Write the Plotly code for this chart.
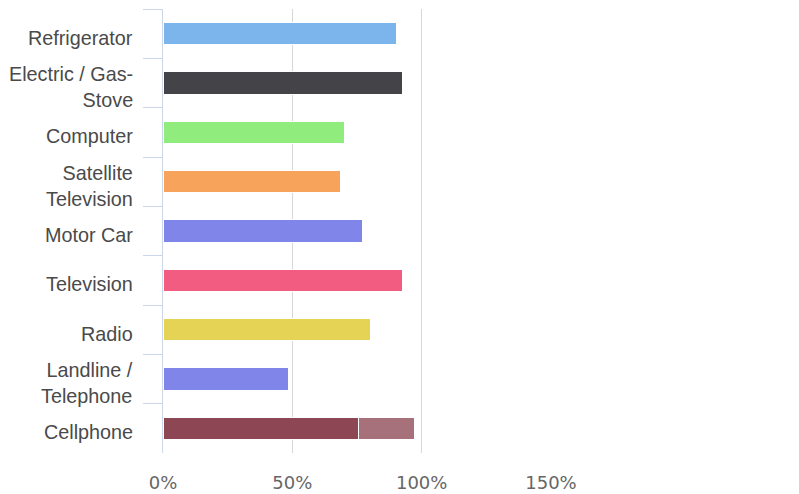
import plotly.graph_objects as go

# Household items and share of respondents owning them (%)
categories = [
    "Refrigerator",
    "Electric / Gas-<br>Stove",
    "Computer",
    "Satellite<br>Television",
    "Motor Car",
    "Television",
    "Radio",
    "Landline /<br>Telephone",
    "Cellphone",
]
ownership = [90.3, 92.6, 70.0, 68.5, 77.0, 92.6, 80.1, 48.4, 75.7]
bar_colors = ["#7cb5ec", "#434348", "#90ed7d", "#f7a35c", "#8085e9",
              "#f15c80", "#e4d354", "#8085e9", "#8d4654"]

# Additional cellphone share stacked on the main cellphone bar
extra_categories = ["Cellphone"]
extra_values = [21.4]
extra_color = "#a6717b"

tick_values = [0, 50, 100, 150]
tick_labels = ["0%", "50%", "100%", "150%"]

fig = go.Figure()
fig.add_trace(go.Bar(
    y=categories, x=ownership, orientation="h",
    marker=dict(color=bar_colors, line=dict(color="white", width=1)),
    showlegend=False, hoverinfo="x+y",
))
fig.add_trace(go.Bar(
    y=extra_categories, x=extra_values, orientation="h",
    marker=dict(color=extra_color, line=dict(color="white", width=1)),
    showlegend=False, hoverinfo="x+y",
))

# Category labels placed beside the axis, slightly below the band centre
for cat in categories:
    fig.add_annotation(
        x=0, xref="paper", y=cat, yref="y",
        text=cat, showarrow=False,
        xanchor="right", yanchor="middle", align="right",
        xshift=-28, yshift=-4,
        font=dict(size=19.8, color="#4a4a4a", family="Liberation Sans, Arial, sans-serif"),
    )

fig.update_layout(
    width=799, height=494,
    margin=dict(l=163, r=248, t=9, b=41),
    barmode="stack",
    bargap=0.55,
    plot_bgcolor="white",
    paper_bgcolor="white",
    font=dict(family="Liberation Sans, Arial, sans-serif", color="#4a4a4a"),
)
fig.update_yaxes(
    categoryorder="array", categoryarray=categories,
    autorange="reversed", automargin=False,
    showline=True, linecolor="#ccd6eb", linewidth=1,
    ticks="outside", tickson="boundaries", ticklen=19, tickcolor="#ccd6eb",
    showticklabels=False,
    showgrid=False,
)
fig.update_xaxes(
    range=[0, 150], automargin=False,
    tickvals=tick_values, ticktext=tick_labels,
    showgrid=True, gridcolor="#d6d6d6", gridwidth=1,
    zeroline=False, showline=False,
    ticks="", ticklabelstandoff=17,
    tickfont=dict(size=18, color="#666666", family="DejaVu Sans, Verdana, sans-serif"),
)

fig.write_html("out.html")
